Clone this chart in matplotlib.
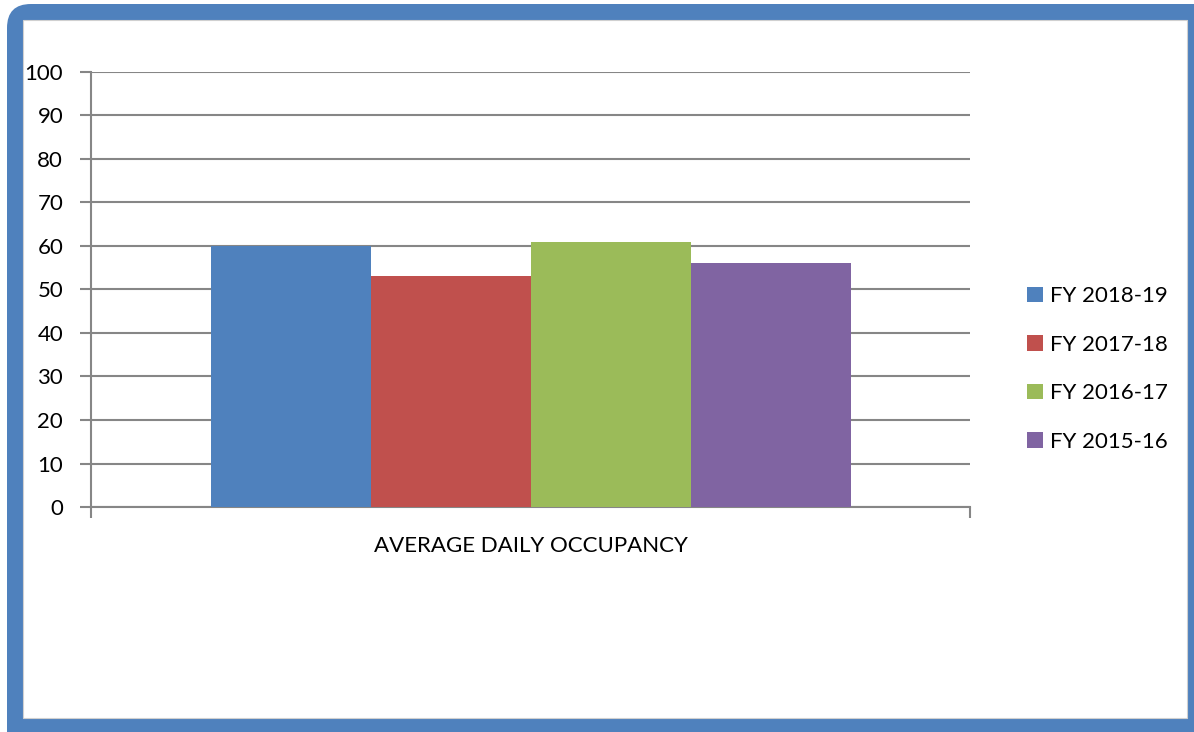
import matplotlib.pyplot as plt
from matplotlib.patches import FancyBboxPatch, Rectangle
import numpy as np

plt.rcParams['font.family'] = ['Lato', 'DejaVu Sans']

# data
category = 'AVERAGE DAILY OCCUPANCY'
series = ['FY 2018-19', 'FY 2017-18', 'FY 2016-17', 'FY 2015-16']
values = [60, 53, 61, 56]
colors = ['#4F81BD', '#C0504D', '#9BBB59', '#8064A2']

W, H = 1194, 732
fig = plt.figure(figsize=(W / 100, H / 100), dpi=100)
fig.patch.set_facecolor('white')

# blue frame around the chart
frame = FancyBboxPatch((7 / W, -0.05), (W - 7) / W + 0.05, (H - 4) / H + 0.05,
                       boxstyle='round,pad=0,rounding_size=0.02',
                       transform=fig.transFigure, facecolor='#4F81BD',
                       edgecolor='none', mutation_aspect=W / H, zorder=0)
fig.patches.append(frame)
inner = Rectangle((23 / W, (H - 718) / H), (1187 - 23) / W, (718 - 20) / H,
                  transform=fig.transFigure, facecolor='white',
                  edgecolor='#D0D0D0', lw=0.8, zorder=1)
fig.patches.append(inner)

ax = fig.add_axes([91 / W, (H - 507) / H, (970 - 91) / W, (507 - 72) / H])
ax.set_zorder(5)
ax.set_facecolor('none')

grey = '#868686'
bw = 160 / 879
offsets = (np.arange(len(series)) - 1.5) * bw
for off, v, c, s in zip(offsets, values, colors, series):
    ax.bar(off, v, width=bw, color=c, label=s, zorder=3)

ax.set_xlim(-0.5, 0.5)
ax.set_ylim(0, 100)
ax.set_yticks(np.arange(0, 101, 10))
ax.yaxis.grid(True, color=grey, lw=1.5, zorder=0)
ax.set_axisbelow(True)

ax.set_xticks([0])
ax.set_xticklabels([category])
ax.set_xticks([-0.5, 0.5], minor=True)
ax.tick_params(axis='x', which='major', length=0, pad=21, labelsize=16)
ax.tick_params(axis='x', which='minor', length=8, width=1.5, color=grey, direction='out')
ax.tick_params(axis='y', length=8, width=1.5, color=grey, pad=12, labelsize=16)

for sp in ['top', 'right']:
    ax.spines[sp].set_visible(False)
for sp in ['left', 'bottom']:
    ax.spines[sp].set_color(grey)
    ax.spines[sp].set_linewidth(1.5)

ax.legend(loc='center left', bbox_to_anchor=(1007 / W, (H - 369) / H),
          bbox_transform=fig.transFigure, frameon=False, fontsize=16,
          handlelength=0.7, handleheight=0.7, handletextpad=0.35,
          labelspacing=1.28)

fig.savefig('out.png', dpi=100)
